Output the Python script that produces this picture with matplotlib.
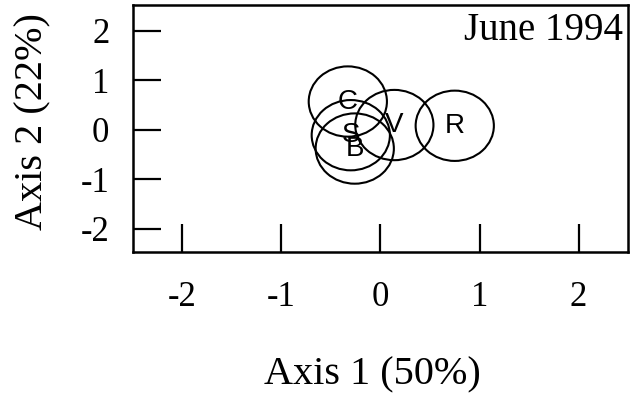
import matplotlib
matplotlib.use("Agg")
import matplotlib.pyplot as plt
from matplotlib.patches import Ellipse

labels = ["C", "S", "B", "V", "R"]
axis1 = [-0.33, -0.30, -0.26, 0.14, 0.75]
axis2 = [0.57, -0.11, -0.38, 0.095, 0.08]
ticks = [-2, -1, 0, 1, 2]
xlabel = "Axis 1 (50%)"
ylabel = "Axis 2 (22%)"
title = "June 1994"

serif = ["Liberation Serif", "DejaVu Serif"]
sans = ["Liberation Sans", "DejaVu Sans"]

fig = plt.figure(figsize=(6.35, 3.94), dpi=100)
ax = fig.add_axes([0.2094, 0.3604, 0.7796, 0.6269])
ax.set_xlim(-2.5, 2.5)
ax.set_ylim(-2.47, 2.52)

for lab, x, y in zip(labels, axis1, axis2):
    ax.add_patch(Ellipse((x, y), width=0.79, height=1.42, fill=False,
                         edgecolor="black", linewidth=1.5))
    ax.text(x, y, lab, ha="center", va="center", fontsize=20,
            family=sans, color="black")

ax.set_xticks(ticks)
ax.set_yticks(ticks)
ax.set_xticklabels([str(t) for t in ticks], family=serif, fontsize=25)
ax.set_yticklabels([str(t) for t in ticks], family=serif, fontsize=25)
ax.tick_params(direction="in", length=20, width=1.6, top=False, right=False)
ax.tick_params(axis="x", pad=21)
ax.tick_params(axis="y", pad=17)
for s in ax.spines.values():
    s.set_linewidth(1.8)

ax.text(0.99, 0.97, title, transform=ax.transAxes, ha="right", va="top",
        family=serif, fontsize=28)

fig.text(372 / 635, 1 - 375 / 394, xlabel, ha="center", va="center",
         family=serif, fontsize=29)
fig.text(33 / 635, 1 - 122 / 394, ylabel, ha="center", va="center",
         rotation=90, family=serif, fontsize=29)

fig.savefig("out.png", dpi=100)
